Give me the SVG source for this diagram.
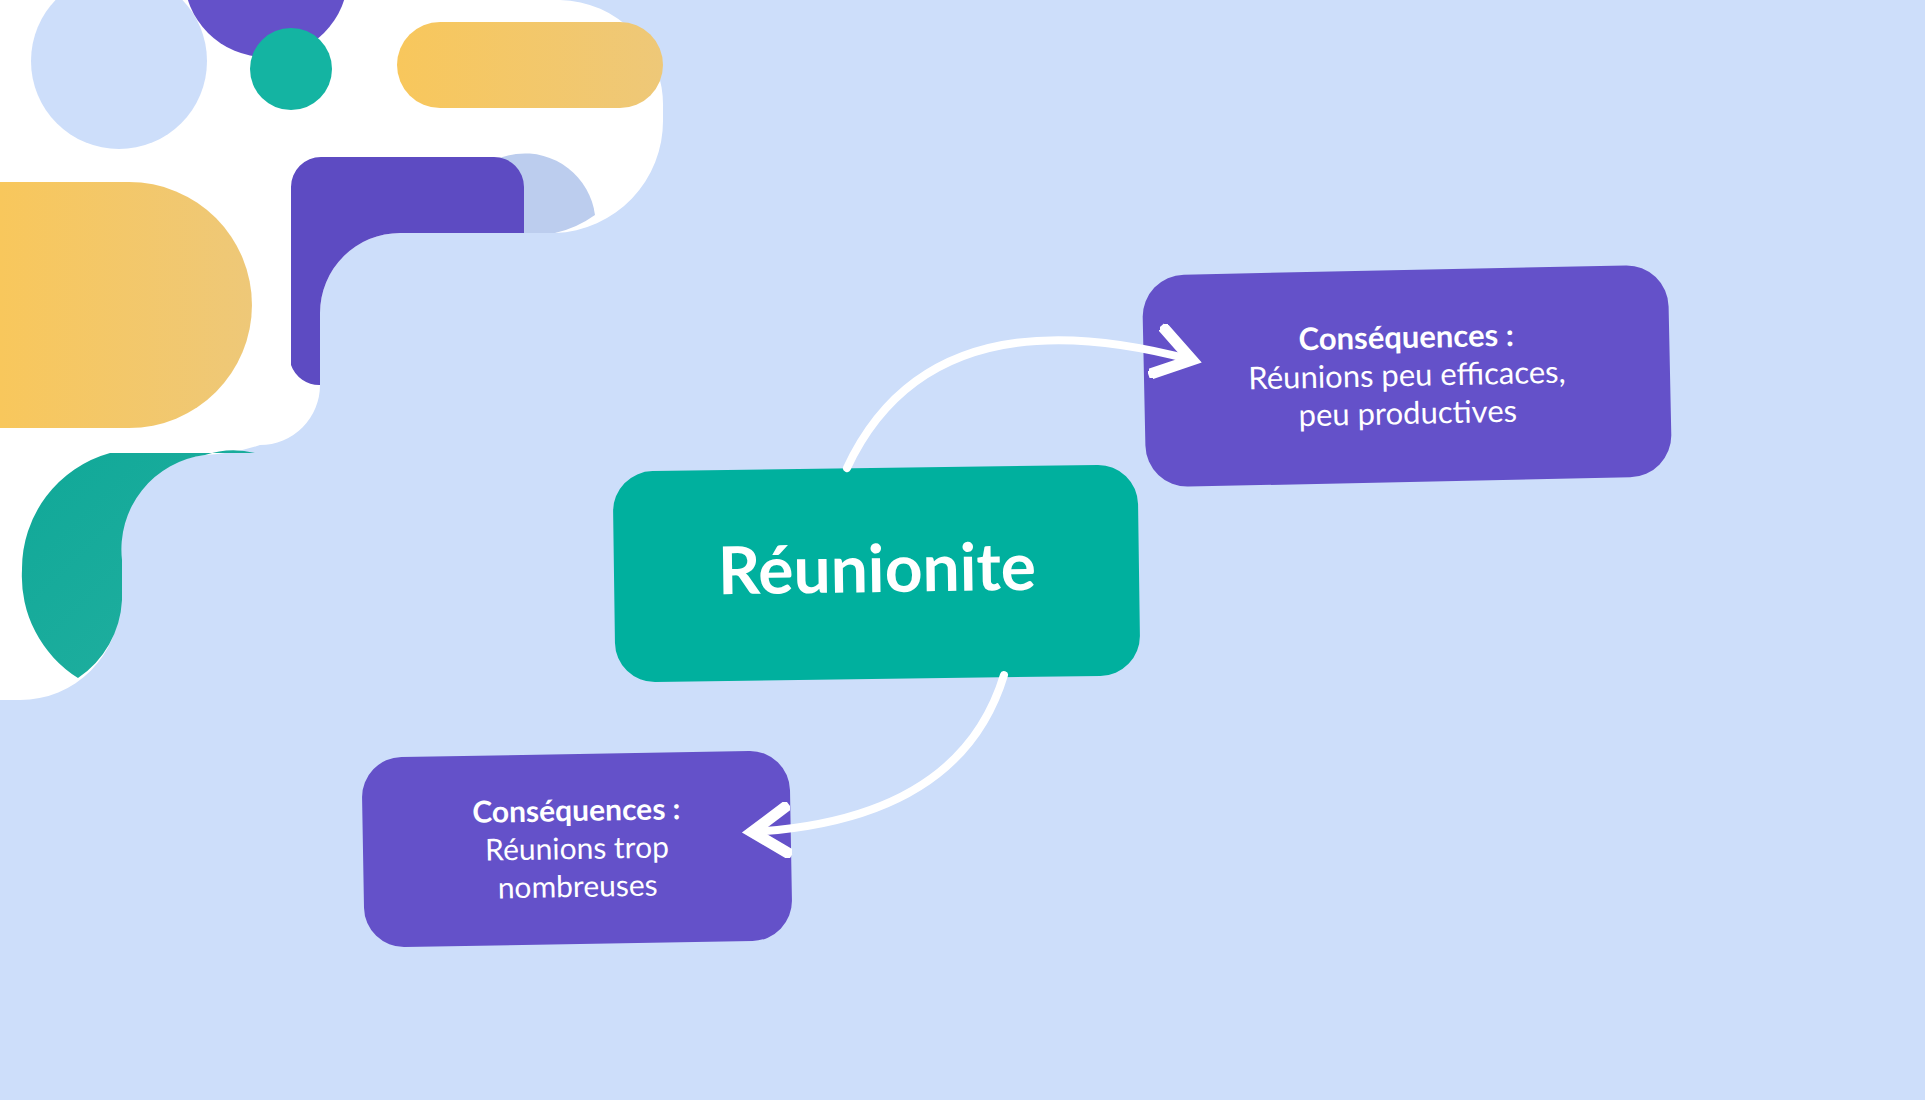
<svg xmlns="http://www.w3.org/2000/svg" width="1925" height="1100" viewBox="0 0 1925 1100">
<style>
.p{fill:#6451C9}
.t{font-family:"Lato","Open Sans",sans-serif;fill:#fff;text-anchor:middle}
.c{fill:none;stroke:#fff;stroke-width:8;stroke-linecap:round}
</style>
<defs>
<marker id="ah" viewBox="0 0 10 10" refX="7" refY="5" markerWidth="7" markerHeight="7" orient="auto" markerUnits="strokeWidth">
<path d="M1,1 L7,5 L1,9" fill="none" stroke="#fff" stroke-width="2" stroke-linecap="square"/>
</marker>
<linearGradient id="gy" x1="0" y1="0" x2="1" y2="0"><stop offset="0" stop-color="#F8C75C"/><stop offset="1" stop-color="#EEC878"/></linearGradient>
<linearGradient id="gt" x1="0" y1="0" x2="1" y2="1"><stop offset="0" stop-color="#10A898"/><stop offset="1" stop-color="#23B0A0"/></linearGradient>
</defs>
<rect width="1925" height="1100" fill="#CDDEFA"/>
<g id="decor">
<path d="M0,0 H560 A105,105 0 0 1 663,108 V120 A112,112 0 0 1 555,233 H400 A80,80 0 0 0 320,313 V385 A60,60 0 0 1 260,445 A200,200 0 0 1 205,455 A95,95 0 0 0 120,555 V600 A100,100 0 0 1 20,700 H0 Z" fill="#FFFFFF"/>
<circle cx="119" cy="61" r="88" fill="#CDDEFA"/>
<circle cx="266" cy="-25" r="82" fill="#6451C9"/>
<circle cx="291" cy="69" r="41" fill="#14B4A2"/>
<rect x="397" y="22" width="266" height="86" rx="43" fill="url(#gy)"/>
<path d="M455,233 A68,68 0 0 1 595,215 A110,110 0 0 1 555,233 Z" fill="#BCCDEE"/>
<path d="M291,187 A30,30 0 0 1 321,157 H494 A30,30 0 0 1 524,187 V233 H400 A80,80 0 0 0 320,313 V385 A30,30 0 0 1 291,365 Z" fill="#5D4BC2"/>
<path d="M0,182 H129 A123,123 0 0 1 129,428 H0 Z" fill="url(#gy)"/>
<path d="M110,453 H255 A90,90 0 0 0 205,455 A95,95 0 0 0 122,560 V600 A100,100 0 0 1 78,678 A120,120 0 0 1 22,570 A120,120 0 0 1 110,453 Z" fill="url(#gt)"/>
</g>
<g id="center" transform="rotate(-0.8 877 573)">
<rect x="614" y="468" width="525" height="211" rx="40" fill="#00B09E"/>
<text class="t" x="877" y="592" font-size="66" font-weight="bold">Réunionite</text>
</g>
<g id="cons1" transform="rotate(-1.2 1407 376)">
<rect class="p" x="1144" y="270" width="526" height="212" rx="42"/>
<text class="t" x="1407" y="348" font-size="31" font-weight="bold">Conséquences :</text>
<text class="t" x="1407" y="386" font-size="31">Réunions peu efficaces,</text>
<text class="t" x="1407" y="424" font-size="31">peu productives</text>
</g>
<g id="cons2" transform="rotate(-1 577 849)">
<rect class="p" x="363" y="754" width="428" height="190" rx="40"/>
<text class="t" x="577" y="821" font-size="30" font-weight="bold">Conséquences :</text>
<text class="t" x="577" y="859" font-size="30">Réunions trop</text>
<text class="t" x="577" y="897" font-size="30">nombreuses</text>
</g>
<g id="connectors">
<path class="c" d="M847,468 Q930,290 1192,360" marker-end="url(#ah)"/>
<path class="c" d="M1004,675 Q960,820 752,832" marker-end="url(#ah)"/>
</g>
</svg>
